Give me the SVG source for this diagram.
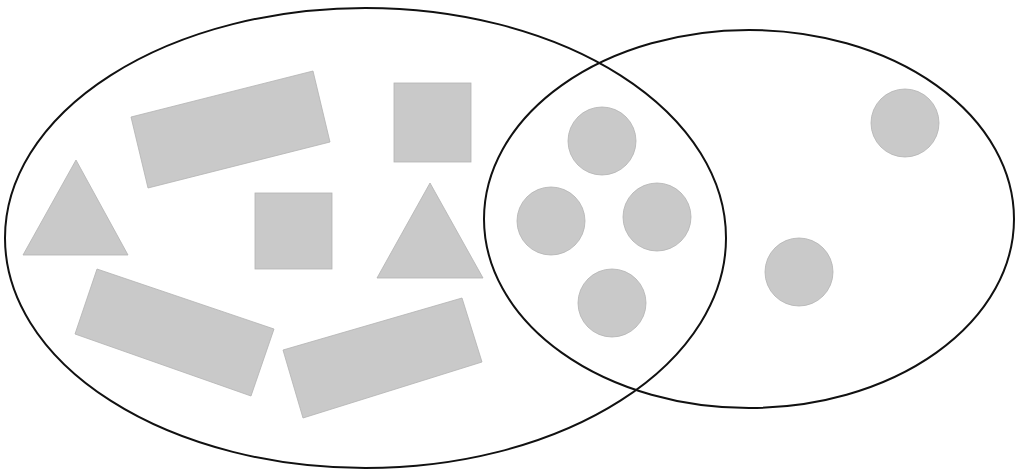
<svg xmlns="http://www.w3.org/2000/svg" width="1019" height="471" viewBox="0 0 1019 471">
<style>
.set{fill:none;stroke:#111;stroke-width:2}
.item{fill:#c9c9c9;stroke:#b3b3b3;stroke-width:0.8}
</style>
<rect width="1019" height="471" fill="#fff"/>
<g id="items">
<polygon id="rect1" class="item" points="131,117 313,71 330,142 148,188"/>
<rect id="square1" class="item" x="394" y="83" width="77" height="79"/>
<polygon id="triangle1" class="item" points="76,160 128,255 23,255"/>
<rect id="square2" class="item" x="255" y="193" width="77" height="76"/>
<polygon id="triangle2" class="item" points="430,183 483,278 377,278"/>
<polygon id="rect2" class="item" points="97,269 274,329 251,396 75,334"/>
<polygon id="rect3" class="item" points="283,350 462,298 482,362 303,418"/>
<circle id="circle1" class="item" cx="602" cy="141" r="34"/>
<circle id="circle2" class="item" cx="551" cy="221" r="34"/>
<circle id="circle3" class="item" cx="657" cy="217" r="34"/>
<circle id="circle4" class="item" cx="612" cy="303" r="34"/>
<circle id="circle5" class="item" cx="905" cy="123" r="34"/>
<circle id="circle6" class="item" cx="799" cy="272" r="34"/>
</g>
<g id="setA"><ellipse class="set" cx="365.5" cy="238" rx="360.5" ry="230"/></g>
<g id="setB"><ellipse class="set" cx="749" cy="219" rx="265" ry="189"/></g>
</svg>
